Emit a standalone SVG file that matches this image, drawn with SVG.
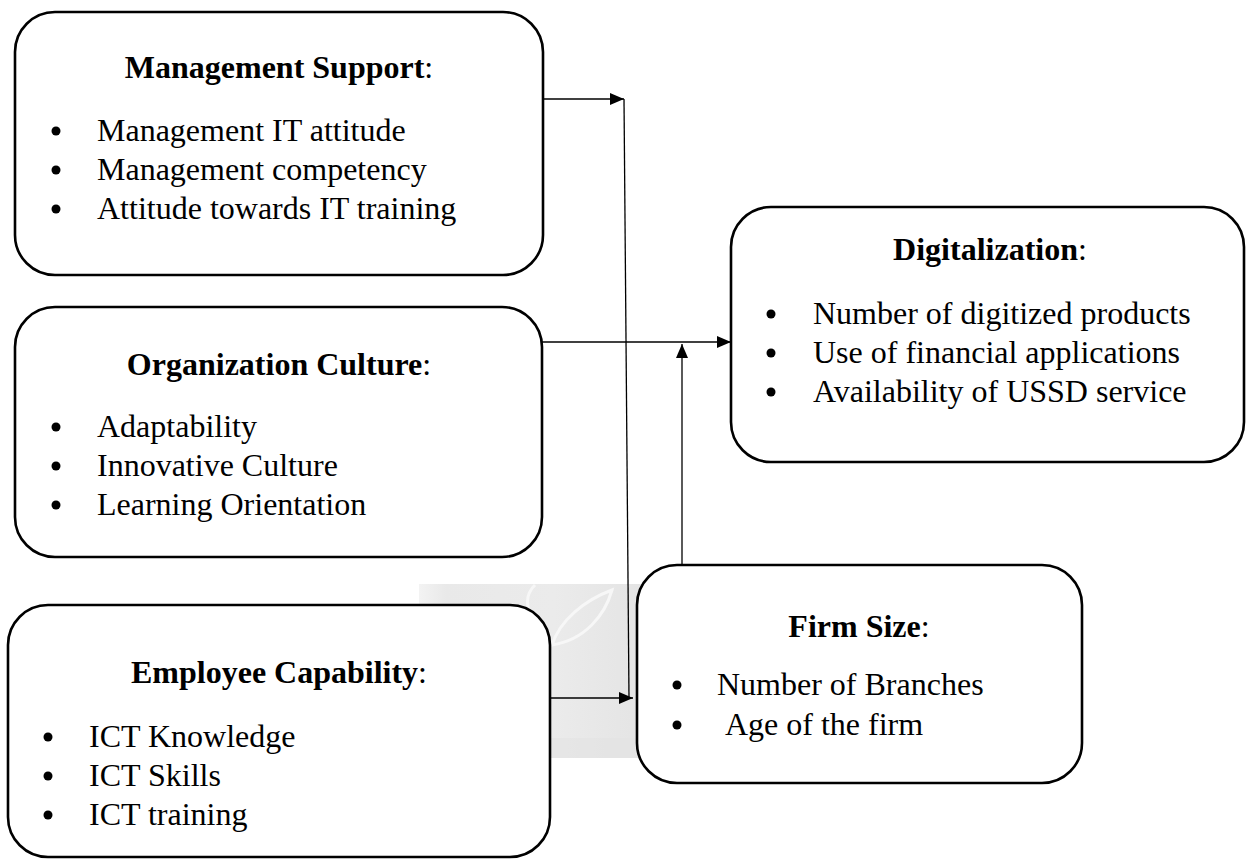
<svg xmlns="http://www.w3.org/2000/svg" width="1258" height="859" viewBox="0 0 1258 859">
  <style>
    .box { fill: #ffffff; stroke: #000000; stroke-width: 2.6; }
    .title { font-family: "Liberation Serif", "Times New Roman", serif; font-size: 32px; fill: #000; text-anchor: middle; }
    .title .b { font-weight: bold; }
    .item { font-family: "Liberation Serif", "Times New Roman", serif; font-size: 32px; fill: #000; }
    .dot { fill: #000; }
    .wire { stroke: #000; stroke-width: 1.3; fill: none; }
    .leaf { fill: none; stroke: #f7f7f7; stroke-width: 3; }
  </style>
  <defs>
    <marker id="head" viewBox="0 0 14 12" refX="14" refY="6" markerWidth="14" markerHeight="12" markerUnits="userSpaceOnUse" orient="auto">
      <path d="M0,0 L14,6 L0,12 Z" fill="#000"/>
    </marker>
    <linearGradient id="shade" x1="0" y1="0" x2="1" y2="0">
      <stop offset="0" stop-color="#f3f3f3"/>
      <stop offset="0.12" stop-color="#e9e9e9"/>
      <stop offset="0.6" stop-color="#ebebeb"/>
      <stop offset="1" stop-color="#e4e4e4"/>
    </linearGradient>
  </defs>

  <rect width="1258" height="859" fill="#ffffff"/>

  <!-- faint background panel behind the lower junction -->
  <g id="backdrop">
    <rect x="419" y="584" width="225" height="174" fill="url(#shade)"/>
    <rect x="419" y="738" width="225" height="20" fill="#e2e2e2" opacity="0.6"/>
    <path class="leaf" d="M552,645 C560,620 585,600 612,590 C605,615 585,640 552,645 Z"/>
    <path class="leaf" d="M530,615 C525,600 528,592 535,585"/>
  </g>

  <!-- connectors -->
  <g id="connectors">
    <line class="wire" x1="543" y1="99" x2="624" y2="99" marker-end="url(#head)"/>
    <line class="wire" x1="624" y1="99" x2="629" y2="698"/>
    <line class="wire" x1="542" y1="342" x2="731" y2="342" marker-end="url(#head)"/>
    <line class="wire" x1="682" y1="565" x2="682" y2="344" marker-end="url(#head)"/>
    <line class="wire" x1="550" y1="698" x2="633" y2="698" marker-end="url(#head)"/>
  </g>

  <g id="management-support">
    <rect class="box" x="15" y="12" width="528" height="263" rx="40" ry="40"/>
    <text class="title" x="279" y="78"><tspan class="b">Management Support</tspan>:</text>
    <circle class="dot" cx="56" cy="131" r="4.5"/>
    <circle class="dot" cx="56" cy="170" r="4.5"/>
    <circle class="dot" cx="56" cy="209" r="4.5"/>
    <text class="item" x="97" y="141">Management IT attitude</text>
    <text class="item" x="97" y="180">Management competency</text>
    <text class="item" x="97" y="219">Attitude towards IT training</text>
  </g>

  <g id="organization-culture">
    <rect class="box" x="15" y="307" width="527" height="250" rx="40" ry="40"/>
    <text class="title" x="279" y="375"><tspan class="b">Organization Culture</tspan>:</text>
    <circle class="dot" cx="56" cy="427" r="4.5"/>
    <circle class="dot" cx="56" cy="466" r="4.5"/>
    <circle class="dot" cx="56" cy="505" r="4.5"/>
    <text class="item" x="97" y="437">Adaptability</text>
    <text class="item" x="97" y="476">Innovative Culture</text>
    <text class="item" x="97" y="515">Learning Orientation</text>
  </g>

  <g id="employee-capability">
    <rect class="box" x="8" y="605" width="542" height="252" rx="40" ry="40"/>
    <text class="title" x="279" y="683"><tspan class="b">Employee Capability</tspan>:</text>
    <circle class="dot" cx="48" cy="737" r="4.5"/>
    <circle class="dot" cx="48" cy="776" r="4.5"/>
    <circle class="dot" cx="48" cy="815" r="4.5"/>
    <text class="item" x="89" y="747">ICT Knowledge</text>
    <text class="item" x="89" y="786">ICT Skills</text>
    <text class="item" x="89" y="825">ICT training</text>
  </g>

  <g id="digitalization">
    <rect class="box" x="731" y="207" width="513" height="255" rx="40" ry="40"/>
    <text class="title" x="990" y="260"><tspan class="b">Digitalization</tspan>:</text>
    <circle class="dot" cx="771" cy="314" r="4.5"/>
    <circle class="dot" cx="771" cy="353" r="4.5"/>
    <circle class="dot" cx="771" cy="392" r="4.5"/>
    <text class="item" x="813" y="324">Number of digitized products</text>
    <text class="item" x="813" y="363">Use of financial applications</text>
    <text class="item" x="813" y="402">Availability of USSD service</text>
  </g>

  <g id="firm-size">
    <rect class="box" x="637" y="565" width="445" height="218" rx="40" ry="40"/>
    <text class="title" x="859" y="637"><tspan class="b">Firm Size</tspan>:</text>
    <circle class="dot" cx="677" cy="685" r="4.5"/>
    <circle class="dot" cx="677" cy="725" r="4.5"/>
    <text class="item" x="717" y="695">Number of Branches</text>
    <text class="item" x="725" y="735">Age of the firm</text>
  </g>
</svg>
